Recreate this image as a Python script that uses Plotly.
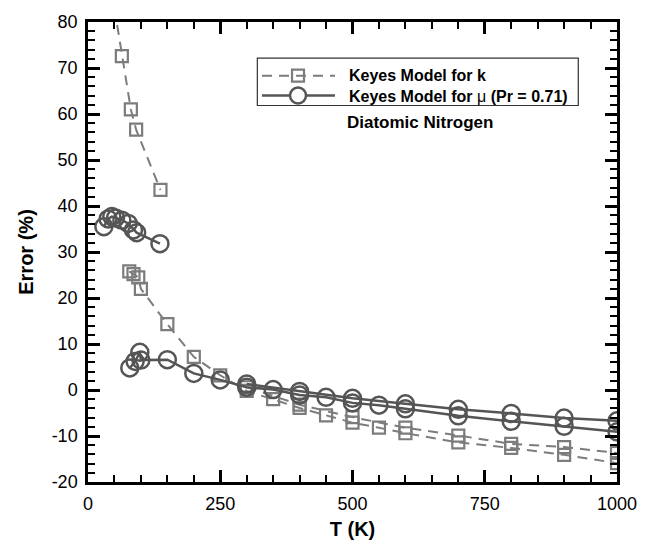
import plotly.graph_objects as go

# Keyes model error vs temperature, diatomic nitrogen
# Thermal conductivity (k) data sets
k_low_T = [50, 64, 81, 91, 137]
k_low_err = [83.0, 72.6, 61.0, 56.6, 43.5]

k_a_T = [78, 86, 95, 100, 150, 200, 250, 300, 350, 400, 450, 500, 550, 600, 700, 800, 900, 1000]
k_a_err = [25.8, 25.2, 24.5, 22.0, 14.3, 7.2, 3.2, -0.2, -2.0, -3.9, -5.5, -7.1, -8.2, -9.4, -11.4, -12.6, -14.1, -15.9]

k_b_T = [300, 400, 500, 600, 700, 800, 900, 1000]
k_b_err = [0.6, -3.2, -5.9, -8.2, -9.9, -11.7, -12.4, -13.7]

# Viscosity (mu) data sets
mu_low_T = [30, 38, 45, 52, 64, 76, 86, 92, 136]
mu_low_err = [35.5, 37.2, 37.7, 37.4, 36.9, 36.2, 34.8, 34.2, 31.8]

mu_a_T = [79, 89, 98, 100, 150, 200, 250, 300, 350, 400, 450, 500, 550, 600, 700, 800, 900, 1000]
mu_a_err = [4.8, 6.2, 8.2, 6.5, 6.6, 3.6, 2.2, 0.6, 0.1, -1.1, -1.6, -2.8, -3.3, -4.1, -5.6, -6.8, -7.9, -9.1]

mu_b_T = [300, 400, 500, 600, 700, 800, 900, 1000]
mu_b_err = [1.3, -0.3, -1.8, -3.0, -4.2, -5.1, -6.1, -6.7]

x_ticks = [0, 250, 500, 750, 1000]
x_labels = ["0", "250", "500", "750", "1000"]
y_ticks = [-20, -10, 0, 10, 20, 30, 40, 50, 60, 70, 80]
y_labels = ["-20", "-10", "0", "10", "20", "30", "40", "50", "60", "70", "80"]

K_COLOR = "#7c7c7c"
MU_COLOR = "#555555"
FONT = "Liberation Sans, Arial, sans-serif"

fig = go.Figure()

for T, err in [(k_low_T, k_low_err), (k_a_T, k_a_err), (k_b_T, k_b_err)]:
    fig.add_trace(go.Scatter(
        x=T, y=err, mode="lines+markers", showlegend=False,
        line=dict(color=K_COLOR, width=2, dash="10px,7px"),
        marker=dict(symbol="square-open", size=12, color=K_COLOR,
                    line=dict(width=2.2, color=K_COLOR)),
    ))

for T, err in [(mu_low_T, mu_low_err), (mu_a_T, mu_a_err), (mu_b_T, mu_b_err)]:
    fig.add_trace(go.Scatter(
        x=T, y=err, mode="lines+markers", showlegend=False,
        line=dict(color=MU_COLOR, width=2.5),
        marker=dict(symbol="circle-open", size=17, color=MU_COLOR,
                    line=dict(width=2.5, color=MU_COLOR)),
    ))

axis_common = dict(
    showline=True, linecolor="black", linewidth=2.5, mirror="allticks",
    ticks="inside", ticklen=12, tickwidth=2.5, tickcolor="black",
    showgrid=False, zeroline=False,
    tickfont=dict(family=FONT, size=18, color="black"),
    ticklabelstandoff=4,
)

fig.update_xaxes(
    range=[0, 1000], tickvals=x_ticks, ticktext=x_labels,
    minor=dict(dtick=50, ticks="inside", ticklen=7, tickwidth=1.5, tickcolor="black", showgrid=False),
    title=dict(text="<b>T (K)</b>", font=dict(family=FONT, size=20, color="black"), standoff=9),
    **axis_common,
)
fig.update_yaxes(
    range=[-20, 80], tickvals=y_ticks, ticktext=y_labels,
    minor=dict(dtick=2, ticks="inside", ticklen=7, tickwidth=1.5, tickcolor="black", showgrid=False),
    title=dict(text="<b>Error (%)</b>", font=dict(family=FONT, size=20, color="black"), standoff=13),
    **axis_common,
)

# Legend box drawn in paper coordinates (rows at 0.8833 and 0.8402)
ROW1, ROW2 = 0.8833, 0.8402
shapes = [
    dict(type="rect", xref="paper", yref="paper", x0=0.3201, x1=0.9268, y0=0.8185, y1=0.9216,
         line=dict(color="#333333", width=1.2), fillcolor="white", layer="above"),
    dict(type="line", xref="paper", yref="paper", x0=0.3289, x1=0.4669, y0=ROW1, y1=ROW1,
         line=dict(color=K_COLOR, width=2, dash="10px,7px")),
    dict(type="line", xref="paper", yref="paper", x0=0.3289, x1=0.4669, y0=ROW2, y1=ROW2,
         line=dict(color=MU_COLOR, width=2.5)),
    dict(type="rect", xref="paper", yref="paper", xsizemode="pixel", ysizemode="pixel",
         xanchor=0.397, yanchor=ROW1, x0=-6, x1=6, y0=-6, y1=6,
         line=dict(color=K_COLOR, width=2.2)),
    dict(type="circle", xref="paper", yref="paper", xsizemode="pixel", ysizemode="pixel",
         xanchor=0.397, yanchor=ROW2, x0=-8, x1=8, y0=-8, y1=8,
         line=dict(color=MU_COLOR, width=2.5), fillcolor="white"),
]

annotations = [
    dict(text="<b>Keyes Model for k</b><br><b>Keyes Model for </b>μ<b> (Pr = 0.71)</b>",
         xref="paper", yref="paper", x=0.489, y=(ROW1 + ROW2) / 2,
         xanchor="left", yanchor="middle", align="left", showarrow=False,
         font=dict(family=FONT, size=16, color="black")),
    dict(text="<b>Diatomic Nitrogen</b>", xref="paper", yref="paper", x=0.6276, y=0.7812,
         xanchor="center", yanchor="middle", showarrow=False,
         font=dict(family=FONT, size=17, color="black")),
]

fig.update_layout(
    width=653, height=549,
    margin=dict(l=88, r=36, t=15.5, b=51.5),
    paper_bgcolor="white", plot_bgcolor="white",
    shapes=shapes, annotations=annotations,
    showlegend=False,
)

fig.write_html("out.html")
